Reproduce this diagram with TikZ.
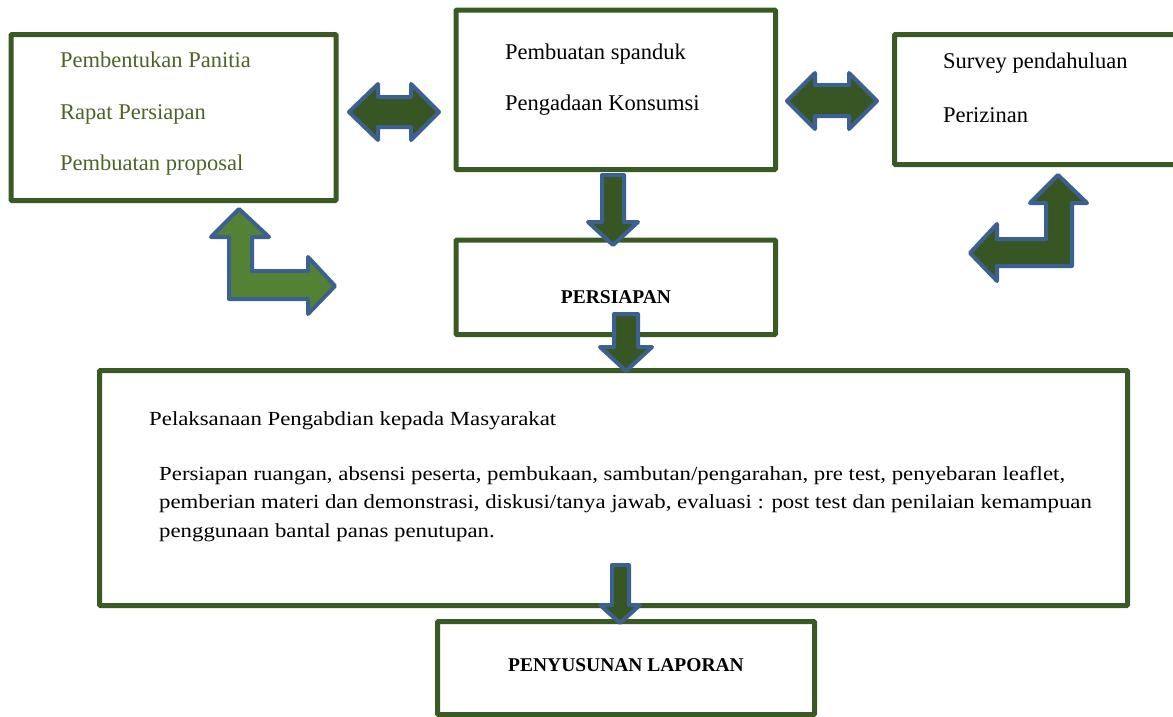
\documentclass[tikz,border=0pt]{standalone}
\usepackage{fontspec}
\setmainfont{Liberation Serif}
\newfontfamily\widefont[FakeStretch=1.14]{Liberation Serif}
\definecolor{boxgreen}{HTML}{3B5A23}
\definecolor{arrgreen}{HTML}{375623}
\definecolor{lightgreen}{HTML}{548235}
\definecolor{arrblue}{HTML}{3C6090}
\definecolor{olivetext}{HTML}{4F6228}
\begin{document}
\begin{tikzpicture}[
    x=1pt, y=-1pt,
    box/.style={draw=boxgreen, line width=5pt, rounded corners=1pt, minimum width=#1},
    blockarrow/.style={draw=arrblue, line width=4pt, line join=round, fill=arrgreen},
    item/.style={anchor=base west, inner sep=0pt, font=\fontsize{22.5}{27}\selectfont},
    para/.style={anchor=base west, inner sep=0pt, font=\widefont\fontsize{20}{28}\selectfont},
    title/.style={anchor=base, inner sep=0pt, font=\fontsize{19.5}{24}\selectfont\bfseries}
]
\useasboundingbox (0,0) rectangle (1173,716);
% boxes
\node[box=325pt, minimum height=166pt] (panitia) at (173.5,117.5) {};
\node[box=319.5pt, minimum height=159.5pt] (spanduk) at (615.75,89.75) {};
\node[box=300pt, minimum height=130pt] (survey) at (1044.5,99.5) {};
\node[box=319.5pt, minimum height=94.5pt] (persiapan) at (615.75,287.25) {};
\node[box=1028pt, minimum height=235pt] (pelaksanaan) at (613.5,488) {};
\node[box=377pt, minimum height=93pt] (laporan) at (626,668) {};

% texts
\node[item, text=olivetext] (t1) at (60,67) {Pembentukan Panitia};
\node[item, text=olivetext] (t2) at (60,119) {Rapat Persiapan};
\node[item, text=olivetext] (t3) at (60,170) {Pembuatan proposal};
\node[item] (t4) at (505,59) {Pembuatan spanduk};
\node[item] (t5) at (505,110) {Pengadaan Konsumsi};
\node[item] (t6) at (943,68) {Survey pendahuluan};
\node[item] (t7) at (943,122) {Perizinan};
\node[title] (t8) at (616,303) {PERSIAPAN};
\node[para] (t9) at (149,425) {Pelaksanaan Pengabdian kepada Masyarakat};
\node[para] (t10) at (159,480) {Persiapan ruangan, absensi peserta, pembukaan, sambutan/pengarahan, pre test, penyebaran leaflet,};
\node[para] (t11) at (159,508) {pemberian materi dan demonstrasi, diskusi/tanya jawab, evaluasi : post test dan penilaian kemampuan};
\node[para] (t12) at (159,537) {penggunaan bantal panas penutupan.};
\node[title] (t13) at (626,671) {PENYUSUNAN LAPORAN};

% block arrows
\draw[blockarrow] (349,112) -- (378,84) -- (378,97) -- (411,97) -- (411,84) -- (439,112)
    -- (411,140) -- (411,127) -- (378,127) -- (378,140) -- cycle;
\draw[blockarrow] (787,101) -- (815,73) -- (815,85) -- (849,85) -- (849,73) -- (877,101)
    -- (849,129) -- (849,116) -- (815,116) -- (815,129) -- cycle;
\draw[blockarrow] (602,175) -- (624,175) -- (624,222) -- (638,222) -- (613,245)
    -- (588,222) -- (602,222) -- cycle;
\draw[blockarrow] (614,314) -- (638,314) -- (638,347) -- (652,347) -- (626,371)
    -- (600,347) -- (614,347) -- cycle;
\draw[blockarrow] (612,565) -- (629,565) -- (629,605) -- (640,605) -- (620,623)
    -- (600,605) -- (612,605) -- cycle;
\draw[blockarrow, fill=lightgreen] (239,209) -- (269,237) -- (252,237) -- (252,271) -- (308,271)
    -- (308,257) -- (335,286) -- (308,314) -- (308,299) -- (229,299) -- (229,237) -- (211,237) -- cycle;
\draw[blockarrow] (1058,175) -- (1087,203) -- (1072,203) -- (1072,266) -- (997,266) -- (997,281)
    -- (970,253) -- (997,224) -- (997,239) -- (1046,239) -- (1046,203) -- (1030,203) -- cycle;
\end{tikzpicture}
\end{document}
